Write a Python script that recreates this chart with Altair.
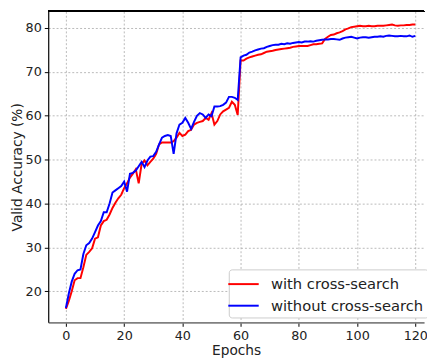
import altair as alt
import pandas as pd

epochs = list(range(121))

without_cs = [
    16.2, 19.5, 22.2, 24.0, 24.8, 25.0, 28.5, 30.5, 31.0, 32.0,
    33.5, 35.0, 36.0, 38.0, 38.0, 40.0, 42.5, 43.0, 43.5, 44.0,
    45.0, 42.7, 46.8, 47.0, 47.5, 48.5, 49.5, 48.3, 49.8, 50.7,
    50.8, 51.8, 53.5, 55.0, 55.4, 55.6, 55.4, 51.3, 56.0, 58.0,
    58.4, 59.5, 58.4, 57.0, 58.6, 60.0, 60.6, 60.3, 59.5, 60.3,
    59.9, 62.1, 62.1, 62.2, 62.5, 63.0, 64.3, 64.3, 64.1, 63.6,
    73.3, 73.7, 73.9, 74.4, 74.6, 74.9, 75.1, 75.3, 75.4, 75.7,
    75.9, 76.1, 76.2, 76.2, 76.4, 76.3, 76.5, 76.4, 76.6, 76.7,
    76.8, 76.7, 76.9, 76.9, 77.0, 76.9, 77.1, 77.2, 77.3, 77.4,
    77.4, 77.5, 77.5, 77.4, 77.3, 77.6, 77.8, 77.9, 78.0, 77.8,
    77.6, 77.8, 77.9, 77.9, 77.8, 77.9, 78.0, 78.0, 78.1, 78.0,
    78.2, 78.3, 78.2, 78.1, 78.1, 78.2, 78.1, 78.1, 78.3, 78.0,
    78.2,
]

with_cs = [
    16.0, 17.8, 20.0, 22.5, 23.0, 23.0, 25.5, 28.3, 29.0, 29.8,
    32.0, 32.3, 35.0, 36.0, 36.3, 37.5, 39.0, 40.2, 41.2, 42.0,
    43.5, 44.6, 45.9, 46.8, 47.8, 44.6, 49.0, 49.8, 48.7, 49.5,
    50.2, 51.3, 53.5, 53.9, 53.9, 53.9, 53.9, 54.2, 55.0, 56.1,
    55.4, 55.7, 56.5, 56.8, 58.0, 58.4, 58.6, 58.8, 59.5, 59.1,
    60.6, 58.0, 58.8, 60.3, 61.0, 61.4, 61.8, 63.2, 62.5, 60.2,
    72.6, 72.6, 73.0, 73.3, 73.5, 73.7, 73.9, 74.0, 74.3, 74.6,
    74.7, 74.8, 75.0, 75.1, 75.2, 75.3, 75.4, 75.5, 75.7, 75.8,
    75.9, 75.9, 75.9, 75.9, 76.1, 76.3, 76.3, 76.4, 76.5, 77.5,
    78.0, 78.4, 78.5, 78.8, 79.0, 79.3, 79.7, 79.9, 80.2, 80.3,
    80.4, 80.5, 80.4, 80.4, 80.5, 80.4, 80.4, 80.5, 80.5, 80.5,
    80.6, 80.7, 80.8, 80.6, 80.5, 80.6, 80.6, 80.7, 80.7, 80.8,
    80.8,
]

series_names = ["with cross-search", "without cross-search"]
series_colors = ["#ff0000", "#0000ff"]
x_ticks = [0, 20, 40, 60, 80, 100, 120]
y_ticks = [20, 30, 40, 50, 60, 70, 80]

df = pd.DataFrame({
    "epoch": epochs * 2,
    "acc": with_cs + without_cs,
    "series": [series_names[0]] * len(epochs) + [series_names[1]] * len(epochs),
})

W, H = 383, 317

lines = alt.Chart(df).mark_line(strokeWidth=2).encode(
    x=alt.X("epoch:Q", scale=alt.Scale(domain=[-6.07, 123.0], nice=False, zero=False),
            axis=alt.Axis(values=x_ticks, title="Epochs", domainColor="#808080",
                          domainWidth=2, format="d")),
    y=alt.Y("acc:Q", scale=alt.Scale(domain=[12.92, 83.8], nice=False, zero=False),
            axis=alt.Axis(values=y_ticks, title="Valid Accuracy (%)", domainColor="black",
                          domainWidth=1.2, format="d")),
    color=alt.Color("series:N",
                    scale=alt.Scale(domain=series_names, range=series_colors),
                    legend=alt.Legend(title=None, orient="none", legendX=184, legendY=263,
                                      symbolType="M-1.55,0H1.55", symbolSize=400,
                                      symbolStrokeWidth=2,
                                      labelFontSize=15, labelFont="DejaVu Sans",
                                      labelColor="#222", labelOffset=17, rowPadding=3,
                                      padding=4, fillColor="white", strokeColor="#cccccc",
                                      cornerRadius=3)),
    order="epoch:Q",
)

top_border = alt.Chart(df).mark_rule(color="black", strokeWidth=1.2).encode(
    x=alt.value(0), x2=alt.value(W), y=alt.value(0)
)

chart = alt.layer(lines, top_border).properties(
    width=W, height=H,
    autosize=alt.AutoSizeParams(type="none"),
    padding={"left": 41, "top": 0, "right": 3, "bottom": 37},
).configure_view(stroke=None).configure_axis(
    grid=True, gridColor="#a8a8a8", gridDash=[2, 2], gridWidth=0.8,
    tickColor="black", tickSize=4, labelFont="DejaVu Sans", labelFontSize=13,
    labelColor="#222", titleFont="DejaVu Sans", titleFontSize=14, titleFontWeight="normal",
    titleColor="#222", labelPadding=3,
).configure_axisY(titlePadding=1).configure_axisX(titlePadding=2)

chart.save("out.html", embed_options={"renderer": "svg", "actions": False})
